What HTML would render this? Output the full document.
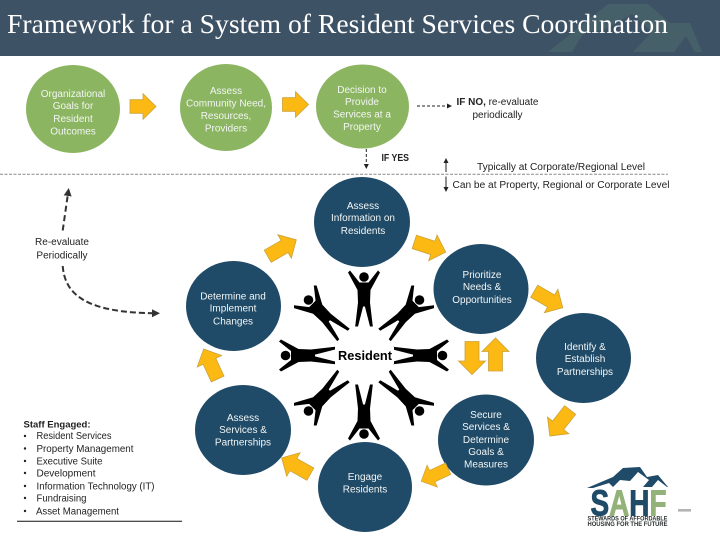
<!DOCTYPE html>
<html lang="en">
<head>
<meta charset="utf-8">
<title>Framework for a System of Resident Services Coordination</title>
<style>
html,body{margin:0;padding:0;background:#fff;width:720px;height:540px;overflow:hidden}
svg{display:block}
.w{font:10px "Liberation Sans",sans-serif;fill:#f2f6f4;text-anchor:middle}
.k{font:10px "Liberation Sans",sans-serif;fill:#222}
.c{text-anchor:middle}
.a{fill:#fdb913;stroke:#c9a23a;stroke-width:.8}
.g{fill:#8cb561}
.b{fill:#1f4a68}
</style>
</head>
<body>
<svg width="720" height="540" viewBox="0 0 720 540" xmlns="http://www.w3.org/2000/svg">
<defs>
<polygon id="as" class="a" points="-13,-6.8 0,-6.8 0,-12.8 13,0 0,12.8 0,6.8 -13,6.8"/>
<polygon id="al" class="a" points="-16.5,-7 3,-7 3,-13.5 16.5,0 3,13.5 3,7 -16.5,7"/>
<g id="fig" fill="#000">
<circle cx="0" cy="-78.5" r="4.8"/>
<path d="M-16,-83 L-14,-85 L-4.5,-73 L4.5,-73 L14,-85 L16,-83 L6.5,-65.5 L6,-53 L8.8,-29 L6,-29 L0.9,-49 L-0.9,-49 L-6,-29 L-8.8,-29 L-6,-53 L-6.5,-65.5 Z"/>
</g>
<marker id="m" markerWidth="6" markerHeight="6" refX="4" refY="2.5" orient="auto" markerUnits="strokeWidth"><path d="M0,0L5,2.5L0,5Z" fill="#222"/></marker>
<marker id="m2" markerWidth="4" markerHeight="4" refX="3" refY="2" orient="auto" markerUnits="strokeWidth"><path d="M0,0L4,2L0,4Z" fill="#333"/></marker>
</defs>

<rect width="720" height="56" fill="#3e5266"/>
<path d="M548,52 L608,4 L648,4 L670,23 L690,23 L702,52 L695,52 L686,36 L674,52 L633,52 L652,32 L632,14 L604,30 L584,32 L572,52 Z" fill="#466069"/>
<text x="7" y="33" font-family="Liberation Serif,serif" font-size="27" fill="#fff" textLength="661" lengthAdjust="spacingAndGlyphs">Framework for a System of Resident Services Coordination</text>

<g style="filter:blur(.35px)">
<line x1="0" y1="174.3" x2="668" y2="174.3" stroke="#8a8a8a" stroke-width="1" stroke-dasharray="3 1.5"/>

<ellipse class="g" cx="73" cy="109" rx="47" ry="44"/>
<ellipse class="g" cx="226" cy="107.5" rx="46" ry="43.5"/>
<ellipse class="g" cx="362.5" cy="106.5" rx="46.5" ry="42"/>
<ellipse class="b" cx="362" cy="222" rx="48" ry="45"/>
<ellipse class="b" cx="481" cy="289" rx="47.5" ry="45"/>
<ellipse class="b" cx="233.5" cy="306" rx="47.5" ry="45"/>
<ellipse class="b" cx="583.5" cy="358" rx="47.5" ry="45"/>
<ellipse class="b" cx="243" cy="430" rx="48" ry="45"/>
<ellipse class="b" cx="486" cy="440" rx="48" ry="45.5"/>
<ellipse class="b" cx="365" cy="487" rx="47" ry="45"/>

<text class="w"><tspan x="73" y="97.2">Organizational</tspan><tspan x="73" y="109.2">Goals for</tspan><tspan x="73" y="122.2">Resident</tspan><tspan x="73" y="134.5">Outcomes</tspan></text>
<text class="w"><tspan x="226" y="94">Assess</tspan><tspan x="226" y="106.5">Community Need,</tspan><tspan x="226" y="119">Resources,</tspan><tspan x="226" y="131.5">Providers</tspan></text>
<text class="w"><tspan x="362" y="93">Decision to</tspan><tspan x="362" y="105">Provide</tspan><tspan x="362" y="117.5">Services at a</tspan><tspan x="362" y="130">Property</tspan></text>
<text class="w"><tspan x="363" y="209">Assess</tspan><tspan x="363" y="221">Information on</tspan><tspan x="363" y="234">Residents</tspan></text>
<text class="w"><tspan x="482" y="278">Prioritize</tspan><tspan x="482" y="290">Needs &amp;</tspan><tspan x="482" y="303">Opportunities</tspan></text>
<text class="w"><tspan x="233" y="299.5">Determine and</tspan><tspan x="233" y="311.5">Implement</tspan><tspan x="233" y="324.5">Changes</tspan></text>
<text class="w"><tspan x="585" y="350">Identify &amp;</tspan><tspan x="585" y="362">Establish</tspan><tspan x="585" y="375">Partnerships</tspan></text>
<text class="w"><tspan x="243" y="421">Assess</tspan><tspan x="243" y="433">Services &amp;</tspan><tspan x="243" y="445.5">Partnerships</tspan></text>
<text class="w"><tspan x="486" y="418">Secure</tspan><tspan x="486" y="430">Services &amp;</tspan><tspan x="486" y="443">Determine</tspan><tspan x="486" y="455">Goals &amp;</tspan><tspan x="486" y="467.5">Measures</tspan></text>
<text class="w"><tspan x="365" y="480">Engage</tspan><tspan x="365" y="492.5">Residents</tspan></text>

<use href="#as" transform="translate(143,106.5)"/>
<use href="#as" transform="translate(295.5,104.5)"/>
<use href="#al" transform="translate(282,248) rotate(-30)"/>
<use href="#al" transform="translate(430,247) rotate(18)"/>
<use href="#al" transform="translate(548.5,299.5) rotate(30)"/>
<use href="#al" transform="translate(560,423) rotate(128)"/>
<use href="#al" transform="translate(434.7,475) rotate(155) scale(.9)"/>
<use href="#al" transform="translate(296,466) rotate(209.5)"/>
<use href="#al" transform="translate(210.7,364) rotate(245)"/>
<use href="#al" transform="translate(472,358) rotate(90)"/>
<use href="#al" transform="translate(495.5,354.5) rotate(-90)"/>

<g transform="translate(364,355.5)">
<use href="#fig"/>
<use href="#fig" transform="rotate(45)"/>
<use href="#fig" transform="rotate(90)"/>
<use href="#fig" transform="rotate(135)"/>
<use href="#fig" transform="rotate(180)"/>
<use href="#fig" transform="rotate(225)"/>
<use href="#fig" transform="rotate(270)"/>
<use href="#fig" transform="rotate(315)"/>
</g>
<rect x="336" y="347" width="58" height="17" fill="#fff"/>
<text x="338" y="360" font-family="Liberation Sans,sans-serif" font-weight="bold" font-size="12.5" fill="#000" textLength="54" lengthAdjust="spacingAndGlyphs">Resident</text>

<line x1="417" y1="106" x2="451" y2="106" stroke="#222" stroke-width="1" stroke-dasharray="3 2" marker-end="url(#m)"/>
<text class="k" x="456.5" y="104.8" textLength="82" lengthAdjust="spacingAndGlyphs"><tspan font-weight="bold">IF NO,</tspan> re-evaluate</text>
<text class="k c" x="497.5" y="118">periodically</text>
<line x1="366.3" y1="149" x2="366.3" y2="168" stroke="#222" stroke-width="1" stroke-dasharray="3 2" marker-end="url(#m)"/>
<text class="k" x="381.5" y="161" style="font-weight:bold" textLength="27.5" lengthAdjust="spacingAndGlyphs">IF YES</text>
<line x1="446" y1="172" x2="446" y2="159" stroke="#222" stroke-width="1" marker-end="url(#m)"/>
<line x1="446" y1="176.5" x2="446" y2="191" stroke="#222" stroke-width="1" marker-end="url(#m)"/>
<text class="k" x="477" y="170" textLength="168" lengthAdjust="spacingAndGlyphs">Typically at Corporate/Regional Level</text>
<text class="k" x="452.5" y="188" textLength="217" lengthAdjust="spacingAndGlyphs">Can be at Property, Regional or Corporate  Level</text>

<path d="M62.7,230.5 L68.5,190" fill="none" stroke="#333" stroke-width="2" stroke-dasharray="6 3.5" marker-end="url(#m2)"/>
<text class="k c"><tspan x="62" y="245">Re-evaluate</tspan><tspan x="62" y="258.5">Periodically</tspan></text>
<path d="M62.7,266 C65,296 88,313 158,313.3" fill="none" stroke="#333" stroke-width="2" stroke-dasharray="6 3" marker-end="url(#m2)"/>

<text class="k" x="23.5" y="427.5" style="font-weight:bold;font-size:9.5px">Staff Engaged:</text>
<text class="k" x="36.5" y="439.2" textLength="75" lengthAdjust="spacingAndGlyphs">Resident Services</text>
<text class="k" x="36.5" y="452" textLength="97" lengthAdjust="spacingAndGlyphs">Property Management</text>
<text class="k" x="36.5" y="464.5" textLength="66" lengthAdjust="spacingAndGlyphs">Executive Suite</text>
<text class="k" x="36.5" y="476.5" textLength="59" lengthAdjust="spacingAndGlyphs">Development</text>
<text class="k" x="36.5" y="489.3" textLength="118" lengthAdjust="spacingAndGlyphs">Information Technology (IT)</text>
<text class="k" x="36.5" y="501.5" textLength="50" lengthAdjust="spacingAndGlyphs">Fundraising</text>
<text class="k" x="36" y="514.5" textLength="83" lengthAdjust="spacingAndGlyphs">Asset Management</text>
<g fill="#222">
<circle cx="25" cy="436" r="1.2"/><circle cx="25" cy="448.5" r="1.2"/><circle cx="25" cy="461" r="1.2"/><circle cx="25" cy="473" r="1.2"/><circle cx="25" cy="486" r="1.2"/><circle cx="25" cy="498" r="1.2"/><circle cx="25" cy="511" r="1.2"/>
</g>
<line x1="17" y1="521.3" x2="182" y2="521.3" stroke="#111" stroke-width="1"/>

<path d="M587,488 L613,477 L623,468 L640,467 L647,477 L658,475 L668,487 L667,487 L658,480 L652,487 L643,487 L649,480 L638,472 L630,481 L620,480 L613,487 L609,483 L593,488 Z" fill="#1f4a68"/>
<text x="590.5" y="515.5" font-family="Liberation Sans,sans-serif" font-weight="bold" font-size="36" stroke-width=".9" textLength="76" lengthAdjust="spacingAndGlyphs"><tspan fill="#1f4a68" stroke="#1f4a68">S</tspan><tspan fill="#93b27a" stroke="#93b27a">A</tspan><tspan fill="#1f4a68" stroke="#1f4a68">H</tspan><tspan fill="#93b27a" stroke="#93b27a">F</tspan></text>
<text x="587.5" y="520.5" font-family="Liberation Sans,sans-serif" font-weight="bold" font-size="6" fill="#2a2f30" textLength="80" lengthAdjust="spacingAndGlyphs">STEWARDS OF AFFORDABLE</text>
<text x="587.5" y="526" font-family="Liberation Sans,sans-serif" font-weight="bold" font-size="6" fill="#2a2f30" textLength="80" lengthAdjust="spacingAndGlyphs">HOUSING FOR THE FUTURE</text>
<rect x="678" y="509" width="13" height="2.6" fill="#b4b4b4"/>
</g>
</svg>
</body>
</html>
